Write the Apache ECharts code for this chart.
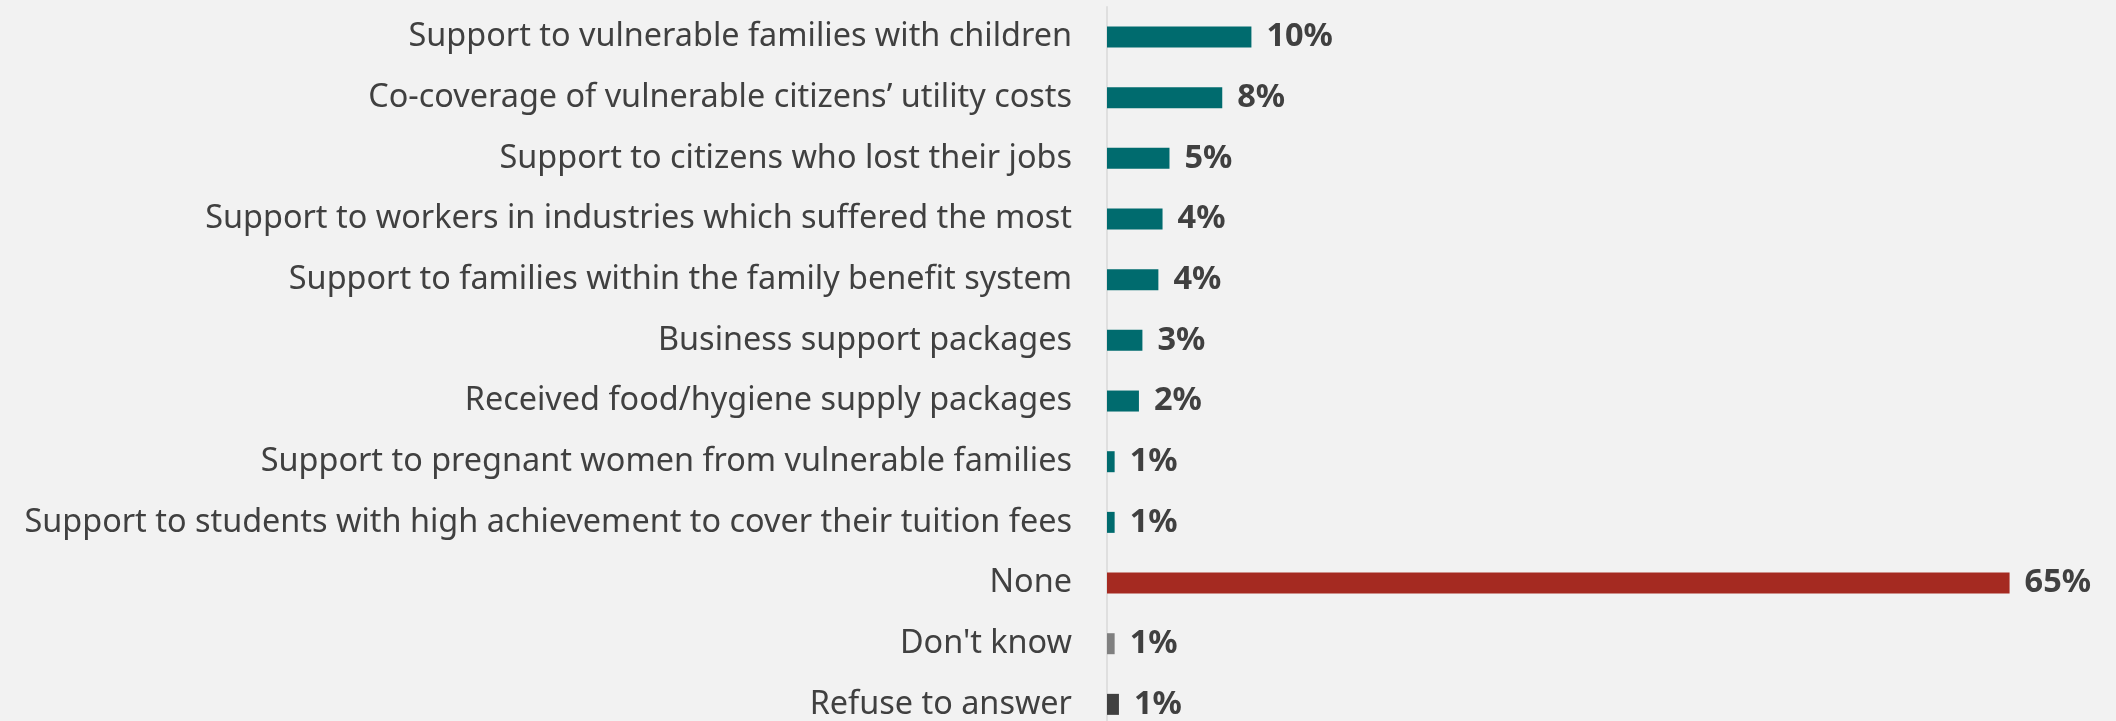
<!DOCTYPE html>
<html>
<head>
<meta charset="utf-8">
<script src="https://cdn.jsdelivr.net/npm/echarts@6/dist/echarts.min.js"></script>
<style>
    html, body { margin: 0; padding: 0; background: #f2f2f2; }
    #chart { width: 2116px; height: 721px; }
</style>
</head>
<body>
<div id="chart"></div>
<script>
    // categories, top to bottom
    const categories = [
        "Support to vulnerable families with children",
        "Co-coverage of vulnerable citizens\u2019 utility costs",
        "Support to citizens who lost their jobs",
        "Support to workers in industries which suffered the most",
        "Support to families within the family benefit system",
        "Business support packages",
        "Received food/hygiene supply packages",
        "Support to pregnant women from vulnerable families",
        "Support to students with high achievement to cover their tuition fees",
        "None",
        "Don't know",
        "Refuse to answer"
    ];
    // share of respondents, %
    const shares = [10.4, 8.3, 4.5, 4.0, 3.7, 2.55, 2.3, 0.55, 0.55, 65, 0.55, 0.86];

    const teal = "#006b6e";
    const barColors = [teal, teal, teal, teal, teal, teal, teal, teal, teal, "#a52a21", "#808080", "#404040"];

    const chart = echarts.init(document.getElementById("chart"));
    const option = {
        backgroundColor: "#f2f2f2",
        animation: false,
        grid: {
            left: 1107,
            top: 6.7,
            width: 972,
            height: 728,
            outerBoundsMode: "none",
            containLabel: false
        },
        xAxis: {
            type: "value",
            min: 0,
            max: 70,
            show: false
        },
        yAxis: {
            type: "category",
            inverse: true,
            data: categories,
            axisTick: { show: false },
            axisLine: {
                lineStyle: { color: "#d9d9d9", width: 1.5 }
            },
            axisLabel: {
                margin: 35,
                color: "#404040",
                fontFamily: "Noto Sans",
                fontSize: 32.4,
                padding: [5, 0, 0, 0]
            }
        },
        series: [
            {
                type: "bar",
                barWidth: 21,
                data: shares.map(function (v, i) {
                    return { value: v, itemStyle: { color: barColors[i] } };
                }),
                label: {
                    show: true,
                    position: "right",
                    distance: 15,
                    color: "#404040",
                    fontFamily: "Noto Sans",
                    fontWeight: "bold",
                    fontSize: 32.5,
                    padding: [6, 0, 0, 0],
                    formatter: function (p) {
                        return Math.round(p.value) + "%";
                    }
                }
            }
        ]
    };
    chart.setOption(option);
</script>
</body>
</html>
